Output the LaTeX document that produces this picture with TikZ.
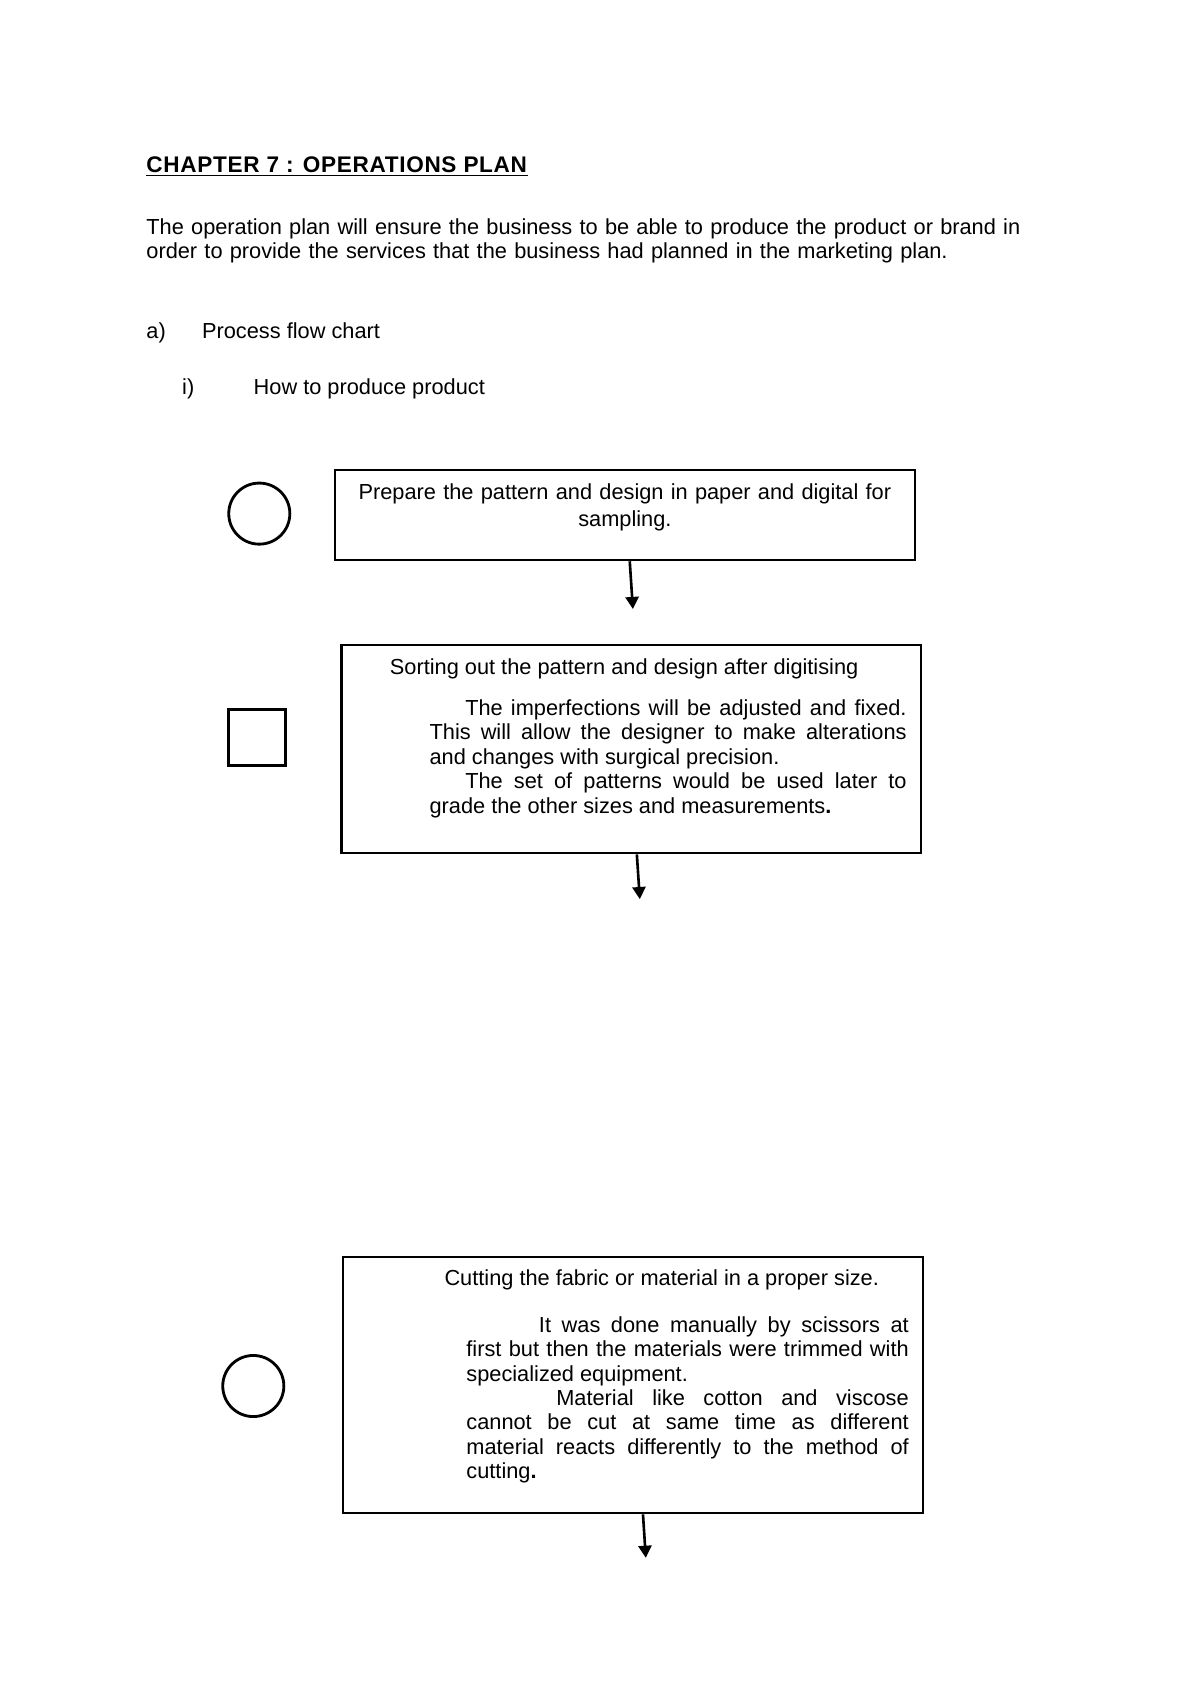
\documentclass[tikz,border=0pt]{standalone}
\usepackage{fontspec}
\setmainfont{Liberation Sans}
\newfontfamily\headfont[LetterSpace=3]{Liberation Sans}
\usetikzlibrary{arrows.meta, positioning}
\tikzset{
  txt/.style={font=\fontsize{10.8}{12.1}\selectfont, inner sep=0pt},
  stepbox/.style={draw, line width=1.1pt, minimum width=287.6pt},
  opcircle/.style={draw, circle, line width=1.4pt, minimum size=30.3pt, inner sep=0pt},
  inspectbox/.style={draw, rectangle, line width=1.3pt, minimum width=28.3pt, minimum height=27.8pt, inner sep=0pt},
  flow/.style={line width=1.3pt, -{Triangle[length=6pt, width=6.5pt]}}
}
\begin{document}
\begin{tikzpicture}[x=0.496pt, y=-0.496pt]
\useasboundingbox (0,0) rectangle (1200,1698);

% heading and intro
\node[txt, anchor=base west] (title) at (146,172)
  {\headfont\fontsize{11.2}{12.1}\selectfont\underline{\textbf{CHAPTER 7 : OPERATIONS PLAN}}};
\node[txt, anchor=base west, text width=480pt, align=left] (intro) at (146,234)
  {The operation plan will ensure the business to be able to produce the product or brand in\\
   order to provide the services that the business had planned in the marketing plan.};
\node[txt, anchor=base west] (partA) at (146,338) {a)};
\node[txt, anchor=base west] (partAtext) at (201.7,338) {Process flow chart};
\node[txt, anchor=base west] (partI) at (181.8,394.5) {i)};
\node[txt, anchor=base west] (partItext) at (253.3,394.5) {How to produce product};

% step 1
\node[opcircle] (opA) at (259.3,513.6) {};
\node[stepbox, minimum height=44.7pt] (boxA) at (624.9,515.1) {};
\node[txt, anchor=base, text width=287pt, align=center] (textA) at (624.9,499)
  {Prepare the pattern and design in paper and digital for\\[1.3pt] sampling.};
\coordinate (endA) at (632.9,609);
\draw[flow] ([xshift=2.4pt]boxA.south) -- (endA);

% step 2
\node[inspectbox] (chkB) at (256.8,737.2) {};
\node[stepbox, minimum height=103.3pt] (boxB) at (631.4,749.1) {};
\node[txt, anchor=base west] (headB) at (389.5,674.8) {Sorting out the pattern and design after digitising};
\node[txt, anchor=base west, text width=236.6pt, align=justify] (textB) at (429.2,715.5)
  {\hspace*{17.7pt}The imperfections will be adjusted and fixed.\linebreak
   This will allow the designer to make alterations\linebreak
   and changes with surgical precision.\\
   \hspace*{17.7pt}The set of patterns would be used later to\linebreak
   grade the other sizes and measurements\textbf{.}};
\coordinate (endB) at (639.8,899.1);
\draw[flow] ([xshift=2.7pt]boxB.south) -- (endB);

% step 3
\node[opcircle] (opC) at (253.3,1386) {};
\node[stepbox, minimum height=127.2pt] (boxC) at (632.9,1385) {};
\node[txt, anchor=base west] (headC) at (444.1,1285.5) {Cutting the fabric or material in a proper size.};
\node[txt, anchor=base west, text width=219.4pt, align=justify] (textC) at (466,1332.3)
  {\hspace*{36pt}It was done manually by scissors at\linebreak
   first but then the materials were trimmed with\linebreak
   specialized equipment.\\
   \hspace*{44.6pt}Material like cotton and viscose\linebreak
   cannot be cut at same time as different\linebreak
   material reacts differently to the method of\linebreak
   cutting\textbf{.}};
\coordinate (endC) at (645.8,1557.8);
\draw[flow] ([xshift=5pt]boxC.south) -- (endC);
\end{tikzpicture}
\end{document}
